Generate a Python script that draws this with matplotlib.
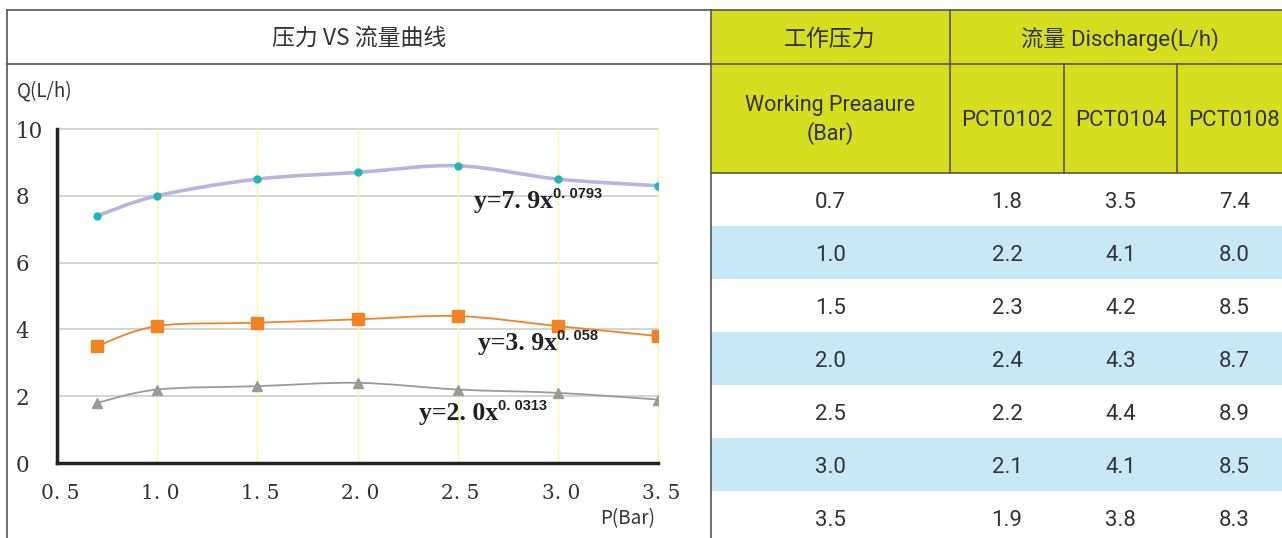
import matplotlib
matplotlib.use("Agg")
import matplotlib.pyplot as plt
import matplotlib.transforms as mtransforms
from matplotlib.path import Path
from matplotlib.patches import PathPatch, Rectangle

# data
pressure = [0.7, 1.0, 1.5, 2.0, 2.5, 3.0, 3.5]
pct0102 = [1.8, 2.2, 2.3, 2.4, 2.2, 2.1, 1.9]
pct0104 = [3.5, 4.1, 4.2, 4.3, 4.4, 4.1, 3.8]
pct0108 = [7.4, 8.0, 8.5, 8.7, 8.9, 8.5, 8.3]
models = ["PCT0102", "PCT0104", "PCT0108"]
pressure_labels = ["0.7", "1.0", "1.5", "2.0", "2.5", "3.0", "3.5"]
x_ticks = [0.5, 1.0, 1.5, 2.0, 2.5, 3.0, 3.5]
x_tick_labels = ["0. 5", "1. 0", "1. 5", "2. 0", "2. 5", "3. 0", "3. 5"]
y_ticks = [0, 2, 4, 6, 8, 10]
equations = [("y=7. 9x", "0. 0793"), ("y=3. 9x", "0. 058"), ("y=2. 0x", "0. 0313")]

SANS = ["Roboto", "Noto Sans CJK SC", "DejaVu Sans"]
CJK = ["Noto Sans CJK SC", "DejaVu Sans"]
SERIF = "DejaVu Serif"
TXT = "#333333"
HEAD = "#D5DF1F"
BLUE = "#C6E8F7"
LINE = "#555555"

W, H = 1282, 538
fig = plt.figure(figsize=(W / 100, H / 100), dpi=100)

# pixel canvas for frames and the table
bg = fig.add_axes([0, 0, 1, 1])
bg.set_xlim(0, W)
bg.set_ylim(H, 0)
bg.axis("off")

# left panel frame
bg.plot([7, 711], [10, 10], color=LINE, lw=1.2)
bg.plot([7, 7], [10, H], color=LINE, lw=1.2)
bg.plot([7, 711], [64, 64], color=LINE, lw=1.2)
bg.text(359, 38, "压力 VS 流量曲线", family=CJK, fontsize=16.5, color=TXT,
        ha="center", va="center")
bg.text(17, 91, "Q(L/h)", family=CJK, fontsize=13.5, color=TXT, ha="left", va="center")
bg.text(655, 519, "P(Bar)", family=CJK, fontsize=13.5, color=TXT, ha="right", va="center")

# table
col_edges = [711, 950, 1064, 1177, 1292]
row_h = 53
data_top = 173

bg.add_patch(Rectangle((711, 10), W - 711, data_top - 10, facecolor=HEAD, edgecolor="none"))
for i in range(len(pressure_labels)):
    y0 = data_top + i * row_h
    if i % 2 == 1:
        bg.add_patch(Rectangle((711, y0), W - 711, row_h, facecolor=BLUE, edgecolor="none"))

bg.plot([711, W], [10, 10], color=LINE, lw=1.2)
bg.plot([711, W], [64, 64], color=LINE, lw=1.2)
bg.plot([711, W], [data_top, data_top], color=LINE, lw=1.2)
bg.plot([711, 711], [10, H], color=LINE, lw=1.2)
bg.plot([950, 950], [10, data_top], color=LINE, lw=1.2)
for x in col_edges[2:4]:
    bg.plot([x, x], [64, data_top], color=LINE, lw=1.2)

bg.text(830, 39, "工作压力", family=SANS, fontsize=16.5, color=TXT, ha="center", va="center")
bg.text(1120, 39, "流量 Discharge(L/h)", family=SANS, fontsize=16, color=TXT,
        ha="center", va="center")
bg.text(830, 120, "Working Preaaure\n(Bar)", family=SANS, fontsize=15.5, color=TXT,
        ha="center", va="center", linespacing=1.3)
centers = [(col_edges[j] + col_edges[j + 1]) / 2 for j in range(4)]
for j, m in enumerate(models):
    bg.text(centers[j + 1], 120, m, family=SANS, fontsize=16, color=TXT,
            ha="center", va="center")

for i, p in enumerate(pressure_labels):
    yc = data_top + i * row_h + row_h / 2 + 3
    row = [p, pct0102[i], pct0104[i], pct0108[i]]
    for j, v in enumerate(row):
        s = v if isinstance(v, str) else f"{v:.1f}"
        bg.text(centers[j], yc, s, family=SANS, fontsize=16, color=TXT,
                ha="center", va="center")

# chart
ax = fig.add_axes([57 / W, (H - 463) / H, (658 - 57) / W, (463 - 129) / H])
ax.set_xlim(0.5, 3.5)
ax.set_ylim(0, 10)
ax.set_facecolor("none")
for s in ["top", "right"]:
    ax.spines[s].set_visible(False)
for s in ["left", "bottom"]:
    ax.spines[s].set_linewidth(2.5)
    ax.spines[s].set_color("#222222")
    ax.spines[s].set_zorder(5)

for y in y_ticks[1:]:
    ax.axhline(y, color="#C8C8C8", lw=1.1, zorder=0, clip_on=False)
for x in x_ticks[1:]:
    ax.axvline(x, color="#FFF4A8", lw=1.0, zorder=0, clip_on=False)

ax.set_xticks(x_ticks)
ax.set_xticklabels(x_tick_labels, family=SERIF, fontsize=14.5, color=TXT)
ax.set_yticks(y_ticks)
ax.set_yticklabels([str(v) for v in y_ticks], family=SERIF, fontsize=15.5, color=TXT,
                   ha="left")
ax.tick_params(length=0)
ax.tick_params(axis="x", pad=15)
ax.tick_params(axis="y", pad=30)
shift = mtransforms.ScaledTranslation(3 / 100, 0, fig.dpi_scale_trans)
for lbl in ax.get_xticklabels():
    lbl.set_transform(lbl.get_transform() + shift)


def smooth_path(xs, ys):
    # Catmull-Rom style bezier through the points (like spreadsheet smoothed lines)
    pts = list(zip(xs, ys))
    verts = [pts[0]]
    codes = [Path.MOVETO]
    n = len(pts)
    for i in range(n - 1):
        p0 = pts[i - 1] if i > 0 else pts[i]
        p1 = pts[i]
        p2 = pts[i + 1]
        p3 = pts[i + 2] if i + 2 < n else pts[i + 1]
        c1 = (p1[0] + (p2[0] - p0[0]) / 6, p1[1] + (p2[1] - p0[1]) / 6)
        c2 = (p2[0] - (p3[0] - p1[0]) / 6, p2[1] - (p3[1] - p1[1]) / 6)
        verts += [c1, c2, p2]
        codes += [Path.CURVE4] * 3
    return Path(verts, codes)


series = [
    (pct0108, "#B3B7E0", 2.6, "o", "#1EB8B8", 5),
    (pct0104, "#F58220", 1.3, "s", "#F58220", 8.5),
    (pct0102, "#9A9A9A", 1.3, "^", "#9A9A9A", 7),
]
for vals, lc, lw, mk, mc, ms in series:
    ax.add_patch(PathPatch(smooth_path(pressure, vals), facecolor="none",
                           edgecolor=lc, lw=lw, zorder=3))
    ax.plot(pressure, vals, linestyle="none", marker=mk, color=mc,
            markersize=ms, zorder=4)

eq_pos = [(2.58, 7.63), (2.60, 3.38), (2.305, 1.29)]
for (base, sup), (ex, ey) in zip(equations, eq_pos):
    t = ax.text(ex, ey, base, family="Liberation Serif", fontsize=18.5, fontweight="bold",
                color="#222222", ha="left", va="baseline", zorder=6)
    ax.annotate(sup, xy=(1.0, 0.66), xycoords=t, family="Liberation Sans", fontsize=10.5,
                fontweight="bold", color="#222222", ha="left", va="baseline", zorder=6)

fig.savefig("out.png", dpi=100)
